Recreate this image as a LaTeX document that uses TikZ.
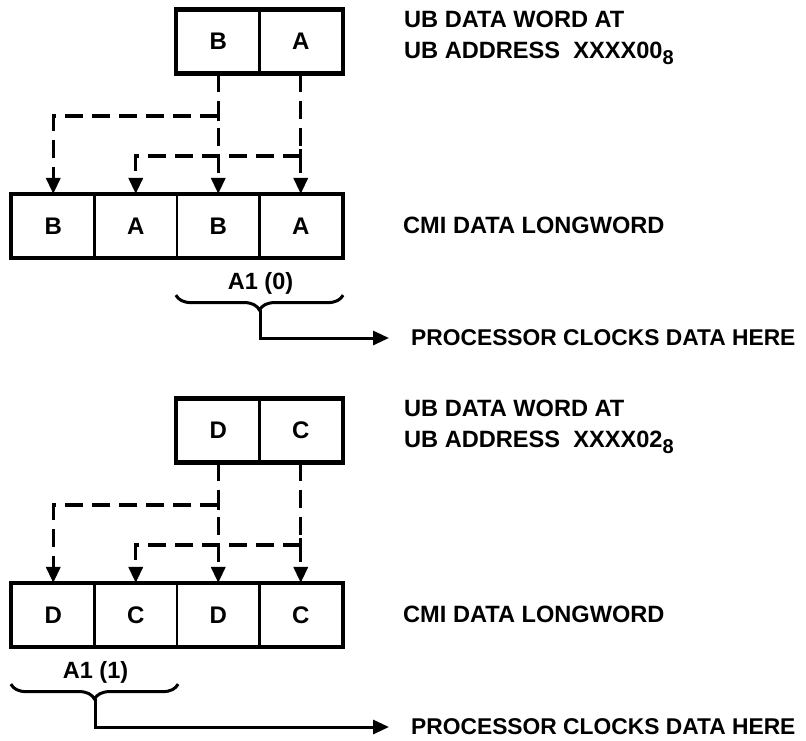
\documentclass[tikz,border=0pt]{standalone}
\usepackage{fontspec}
\setmainfont{Liberation Sans}
\usetikzlibrary{arrows.meta,decorations.pathreplacing,calc}
\begin{document}
\begin{tikzpicture}[x=1pt,y=-1pt,
  cell/.style={draw,line width=2.2pt,minimum width=82.5pt,minimum height=62pt,inner sep=0pt,
    font=\fontsize{24}{28}\selectfont\bfseries},
  frame/.style={line width=4.6pt},
  flow/.style={line width=3.4pt,dash pattern=on 18pt off 9pt,-{Triangle[length=16pt,width=14pt]}},
  tick/.style={line width=3.4pt},
  brc/.style={line width=3pt,decorate,decoration={brace,mirror,amplitude=15pt}},
  ptr/.style={line width=3pt,-{Triangle[length=16pt,width=14pt]},shorten >=22pt},
  lbl/.style={anchor=west,inner sep=0pt,align=left,font=\fontsize{23.6}{31}\selectfont\bfseries},
  plbl/.style={anchor=west,inner sep=0pt,font=\fontsize{22.8}{26}\selectfont\bfseries},
  blbl/.style={inner sep=0pt,font=\fontsize{23.5}{26}\selectfont\bfseries}
]
\useasboundingbox (0,0) rectangle (806,740);

% ---------- top section ----------
\node[cell] (ub) at (218.25,41.5) {B};
\node[cell] (ua) at (300.75,41.5) {A};
\draw[frame] (ub.north west) rectangle (ua.south east);

\node[cell] (c1) at (53.25,226) {B};
\node[cell] (c2) at (135.75,226) {A};
\node[cell] (c3) at (218.25,226) {B};
\node[cell] (c4) at (300.75,226) {A};
\draw[frame] (c1.north west) rectangle (c4.south east);

\coordinate (j1) at ($(ub.south)+(0,42.5)$);
\coordinate (j2) at ($(ua.south)+(0,82.5)$);
\draw[flow] (ub.south) -- (c3.north);
\draw[flow] (ua.south) -- (c4.north);
\draw[flow] (j1) -| (c1.north);
\draw[flow] (j2) -| (c2.north);
\draw[tick] ($(j1)+(0,-7)$) -- ($(j1)+(0,5)$);
\draw[tick] ($(j2)+(0,-7)$) -- ($(j2)+(0,5)$);

\node[lbl] (t1) at (404,37.5) {UB DATA WORD AT\\UB ADDRESS\ \ XXXX00\raisebox{-6pt}{\fontsize{20}{20}\selectfont 8}};
\node[lbl] (t2) at (403,225) {CMI DATA LONGWORD};

\draw[brc] ($(c3.south west)+(0,37)$) -- ($(c4.south east)+(0,37)$);
\coordinate (k1) at ($(c3.south east)+(0,52)$);
\node[blbl] (a1) at ($(c3.south east)+(0,25)$) {A1 (0)};
\node[plbl] (p1) at (411,338) {PROCESSOR CLOCKS DATA HERE};
\draw[ptr] (k1) |- (p1.west);

% ---------- bottom section ----------
\node[cell] (ud) at (218.25,430.5) {D};
\node[cell] (uc) at (300.75,430.5) {C};
\draw[frame] (ud.north west) rectangle (uc.south east);

\node[cell] (d1) at (53.25,615) {D};
\node[cell] (d2) at (135.75,615) {C};
\node[cell] (d3) at (218.25,615) {D};
\node[cell] (d4) at (300.75,615) {C};
\draw[frame] (d1.north west) rectangle (d4.south east);

\coordinate (j3) at ($(ud.south)+(0,42.5)$);
\coordinate (j4) at ($(uc.south)+(0,82.5)$);
\draw[flow] (ud.south) -- (d3.north);
\draw[flow] (uc.south) -- (d4.north);
\draw[flow] (j3) -| (d1.north);
\draw[flow] (j4) -| (d2.north);
\draw[tick] ($(j3)+(0,-7)$) -- ($(j3)+(0,5)$);
\draw[tick] ($(j4)+(0,-7)$) -- ($(j4)+(0,5)$);

\node[lbl] (t3) at (404,426.5) {UB DATA WORD AT\\UB ADDRESS\ \ XXXX02\raisebox{-6pt}{\fontsize{20}{20}\selectfont 8}};
\node[lbl] (t4) at (403,614) {CMI DATA LONGWORD};

\draw[brc] ($(d1.south west)+(0,37)$) -- ($(d2.south east)+(0,37)$);
\coordinate (k2) at ($(d1.south east)+(0,52)$);
\node[blbl] (a2) at ($(d1.south east)+(0,25)$) {A1 (1)};
\node[plbl] (p2) at (411,727) {PROCESSOR CLOCKS DATA HERE};
\draw[ptr] (k2) |- (p2.west);
\end{tikzpicture}
\end{document}
